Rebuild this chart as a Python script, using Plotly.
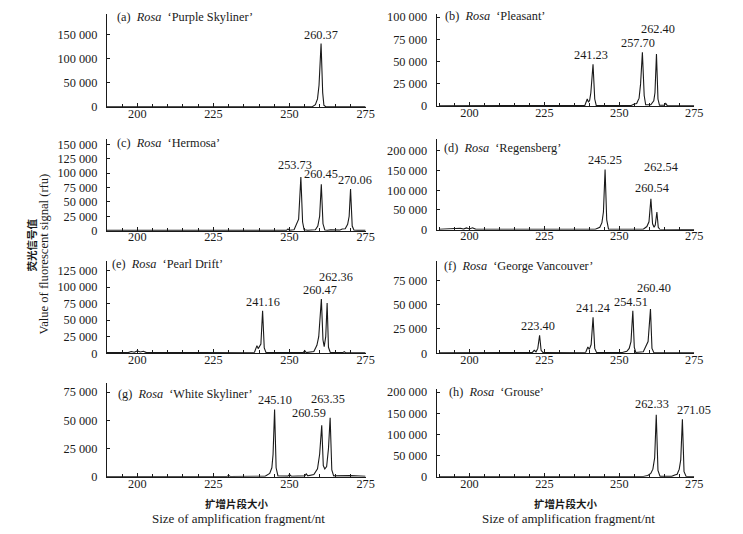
import plotly.graph_objects as go

# ---------------- data ----------------
cultivars = ["Purple Skyliner", "Pleasant", "Hermosa", "Regensberg",
             "Pearl Drift", "George Vancouver", "White Skyliner", "Grouse"]
panel_tags = ["(a)", "(b)", "(c)", "(d)", "(e)", "(f)", "(g)", "(h)"]

# electropherogram traces: fragment size (nt) / signal (rfu)
a_x = [190, 199, 200, 201, 202, 251.5, 252, 252.5, 257.5, 258.5, 259.2, 259.7, 260.37, 260.9, 261.3, 262, 268.5, 269.2, 270, 275]
a_y = [500, 500, 1200, 500, 500, 500, 2000, 500, 800, 5000, 17000, 45000, 131000, 30000, 4000, 500, 500, 1500, 500, 500]

b_x = [190, 238.5, 239.3, 239.7, 240.1, 240.5, 241.23, 241.8, 242.3, 254, 255, 255.8, 256.6, 257.1, 257.7, 258.3, 258.8,
       260.5, 261.5, 261.9, 262.4, 262.9, 263.4, 265, 265.5, 266, 275]
b_y = [500, 800, 8000, 4500, 6500, 15000, 47000, 8000, 800, 800, 2500, 3000, 9000, 25000, 60500, 12000, 1500,
       1500, 6000, 15000, 58500, 8000, 1200, 1000, 3000, 600, 500]

c_x = [190, 249, 249.5, 250, 251.5, 252.4, 253, 253.73, 254.3, 254.8, 256, 258.5, 259.3, 259.9, 260.45, 261, 261.6,
       262.5, 263.5, 266.5, 267.3, 268.3, 269.1, 269.6, 270.06, 270.6, 271.2, 272.5, 275]
c_y = [500, 500, 3000, 500, 1500, 13000, 20000, 93000, 15000, 1500, 600, 1500, 8000, 25000, 80500, 12000, 1200,
       600, 1500, 1000, 3000, 3500, 11000, 25000, 72400, 8000, 800, 500, 500]

d_x = [190, 196, 197, 198, 199, 200, 201, 202, 203, 242, 243.5, 244.2, 244.7, 245.25, 245.8, 246.4, 258, 259.2,
       259.9, 260.54, 261.1, 261.6, 262.0, 262.54, 263.0, 263.5, 265, 275]
d_y = [1000, 2000, 3500, 1500, 4500, 2000, 5000, 1500, 1000, 1000, 6000, 18000, 45000, 152700, 25000, 1500, 1000, 8000,
       20000, 78500, 15000, 6000, 12000, 44800, 6000, 1000, 1000, 500]

e_x = [190, 197, 198, 199, 200, 201, 202, 203, 238.5, 239.3, 239.7, 240.1, 240.6, 241.16, 241.7, 242.3, 254.5, 255,
       255.5, 258, 259, 259.6, 260.1, 260.47, 261, 261.4, 261.9, 262.36, 262.8, 263.4, 267.5, 268, 268.5, 275]
e_y = [1000, 1000, 2500, 1500, 3500, 2000, 3000, 1000, 1500, 11500, 7000, 9500, 14000, 64300, 8000, 1000, 1000, 4000,
       1000, 2500, 12000, 25000, 65000, 81800, 20000, 10000, 25000, 75800, 9000, 1200, 1000, 2500, 600, 500]

f_x = [190, 221, 221.6, 222.2, 222.8, 223.4, 223.9, 224.5, 238.8, 239.5, 240, 240.6, 241.24, 241.8, 242.4, 251, 252.5,
       253.3, 253.9, 254.51, 255, 255.5, 258, 258.9, 259.6, 260.4, 260.9, 261.5, 275]
f_y = [500, 800, 3000, 1500, 5000, 18500, 3000, 800, 1000, 6500, 4000, 9000, 37000, 5000, 800, 800, 2000,
       5000, 12000, 43800, 6000, 800, 1500, 7000, 12000, 45500, 5000, 800, 500]

g_x = [190, 229.5, 230, 230.5, 242, 243.5, 244.2, 244.6, 245.1, 245.6, 246.2, 249.5, 250, 250.6, 255, 255.5, 256, 258,
       259.2, 259.9, 260.59, 261.1, 261.6, 262.2, 262.8, 263.35, 263.9, 264.5, 270, 275]
g_y = [300, 300, 1200, 300, 500, 3000, 8000, 20000, 59700, 8000, 800, 600, 2000, 500, 800, 2500, 800, 2000,
       7000, 20000, 45600, 10000, 7000, 9000, 25000, 52300, 6000, 800, 1000, 500]

h_x = [190, 244.5, 245, 245.5, 258, 259.5, 260.5, 261.2, 261.8, 262.33, 262.9, 263.6, 267.5, 268.5, 269.3, 270, 270.5,
       271.05, 271.6, 272.3, 275]
h_y = [500, 500, 1500, 500, 800, 3000, 8000, 18000, 45000, 146600, 15000, 1000, 1000, 4000, 6000, 18000, 40000,
       135700, 12000, 1000, 500]

# labelled peaks (size, height)
a_peaks = [260.37];                         a_heights = [131000]
b_peaks = [241.23, 257.70, 262.40];         b_heights = [47000, 60500, 58500]
c_peaks = [253.73, 260.45, 270.06];         c_heights = [93000, 80500, 72400]
d_peaks = [245.25, 260.54, 262.54];         d_heights = [152700, 78500, 44800]
e_peaks = [241.16, 260.47, 262.36];         e_heights = [64300, 81800, 75800]
f_peaks = [223.40, 241.24, 254.51, 260.40]; f_heights = [18500, 37000, 43800, 45500]
g_peaks = [245.10, 260.59, 263.35];         g_heights = [59700, 45600, 52300]
h_peaks = [262.33, 271.05];                 h_heights = [146600, 135700]

# y-axis ticks per panel
a_ticks = [0, 50000, 100000, 150000]
b_ticks = [0, 25000, 50000, 75000, 100000]
c_ticks = [0, 25000, 50000, 75000, 100000, 125000, 150000]
d_ticks = [0, 50000, 100000, 150000, 200000]
e_ticks = [0, 25000, 50000, 75000, 100000, 125000]
f_ticks = [0, 25000, 50000, 75000]
g_ticks = [0, 25000, 50000, 75000]
h_ticks = [0, 50000, 100000, 150000, 200000]
y_max = [191000, 103000, 159000, 230000, 140000, 95500, 83000, 207000]
x_ticks = [200, 225, 250, 275]

# ---------------- layout / style ----------------
W, H = 743, 534
FONT = "Liberation Serif, Times New Roman, Noto Sans CJK SC, serif"
CJK = "Noto Sans CJK SC"
INK = "#1a1a1a"

# the page is photographed with a small offset/scale; map target pixels to figure pixels
def fx(px):
    return (px - 8.0) / 0.989

def fy(py):
    return (py - 9.5) / 0.983

traces = [(a_x, a_y), (b_x, b_y), (c_x, c_y), (d_x, d_y), (e_x, e_y), (f_x, f_y), (g_x, g_y), (h_x, h_y)]
peaks = [(a_peaks, a_heights), (b_peaks, b_heights), (c_peaks, c_heights), (d_peaks, d_heights),
         (e_peaks, e_heights), (f_peaks, f_heights), (g_peaks, g_heights), (h_peaks, h_heights)]
yticks = [a_ticks, b_ticks, c_ticks, d_ticks, e_ticks, f_ticks, g_ticks, h_ticks]

col_px = [(107, 366), (437, 695)]
row_px = [[(12, 105), (12, 104)], [(137, 229), (137, 228)], [(259, 352), (259, 352)], [(382, 476), (388, 476)]]
x_ranges = [[190, 275], [189, 275]]

label_shift = [
    [(0, 0)],
    [(-2, 0), (-4, 0), (2, 16)],
    [(-6, 3), (0, 1), (4, 0)],
    [(0, 1), (1, 2), (4, 36)],
    [(0, 0), (-1, 0), (9, 17)],
    [(-2, 0), (0, 0), (-2, 0), (4, 12)],
    [(0, 0), (-13, 3), (-2, 10)],
    [(-4, 2), (12, 0)],
]
title_shift = [(8, -3), (6, -2), (8, -4), (5, -9), (3, -3), (5, -5), (9, -11), (10, -3)]

fig = go.Figure()
annotations = []
layout_axes = {}
FS = 12.3

def fmt(v):
    return f"{v:,}".replace(",", " ")

for i in range(8):
    r, c = divmod(i, 2)
    n = i + 1
    xa = "x" if n == 1 else f"x{n}"
    ya = "y" if n == 1 else f"y{n}"
    xkey = "xaxis" if n == 1 else f"xaxis{n}"
    ykey = "yaxis" if n == 1 else f"yaxis{n}"
    xs, ys = traces[i]
    fig.add_trace(go.Scatter(x=xs, y=ys, mode="lines", xaxis=xa, yaxis=ya,
                             line=dict(color=INK, width=1.1), showlegend=False, hoverinfo="skip"))
    l, rr = col_px[c]
    t, b = row_px[r][c]
    layout_axes[xkey] = dict(
        domain=[fx(l) / W, fx(rr) / W], anchor=ya, range=x_ranges[c],
        tickvals=x_ticks, ticks="inside", ticklen=4, tickwidth=1, tickcolor=INK,
        minor=dict(dtick=5, tick0=190, ticks="inside", ticklen=3, tickcolor=INK),
        showline=True, linecolor=INK, linewidth=1, showgrid=False, zeroline=False,
        ticklabelstandoff=-5,
        tickfont=dict(family=FONT, size=FS, color=INK),
    )
    yt = yticks[i] + [y_max[i]]
    ylab = [fmt(v) for v in yticks[i]] + [""]
    layout_axes[ykey] = dict(
        domain=[1 - fy(b) / H, 1 - fy(t) / H], anchor=xa, range=[0, y_max[i]],
        tickvals=yt, ticktext=ylab, ticks="inside", ticklen=3, tickwidth=1, tickcolor=INK,
        showline=True, linecolor=INK, linewidth=1, showgrid=False, zeroline=False,
        ticklabelstandoff=6,
        tickfont=dict(family=FONT, size=FS, color=INK),
    )
    tx, ty = title_shift[i]
    annotations.append(dict(
        xref=f"{xa} domain", yref=f"{ya} domain", x=0, y=1, xanchor="left", yanchor="middle",
        xshift=tx, yshift=ty, showarrow=False,
        text=f"{panel_tags[i]}\u00a0\u00a0<i>Rosa</i>\u00a0\u00a0\u2018{cultivars[i]}\u2019",
        font=dict(family=FONT, size=FS, color=INK)))
    pk, ht = peaks[i]
    for j, (px, py) in enumerate(zip(pk, ht)):
        sx, sy = label_shift[i][j]
        annotations.append(dict(
            xref=xa, yref=ya, x=px, y=py, xanchor="center", yanchor="bottom",
            xshift=sx, yshift=sy, showarrow=False, text=f"{px:.2f}",
            font=dict(family=FONT, size=FS, color=INK)))

annotations += [
    dict(xref="paper", yref="paper", x=fx(32) / W, y=1 - fy(243) / H, text="荧光信号值", textangle=-90,
         showarrow=False, xanchor="center", yanchor="middle",
         font=dict(family=CJK, size=10.5, color=INK, weight="bold")),
    dict(xref="paper", yref="paper", x=fx(44) / W, y=1 - fy(252) / H, text="Value of fluorescent signal (rfu)",
         textangle=-90, showarrow=False, xanchor="center", yanchor="middle",
         font=dict(family=FONT, size=12.6, color=INK)),
]
for cx in (237, 567):
    annotations += [
        dict(xref="paper", yref="paper", x=fx(cx) / W, y=1 - fy(503) / H, text="扩增片段大小", showarrow=False,
             xanchor="center", yanchor="middle", font=dict(family=CJK, size=10.5, color=INK, weight="bold")),
        dict(xref="paper", yref="paper", x=fx(cx + 2) / W, y=1 - fy(518) / H,
             text="Size of amplification fragment/nt",
             showarrow=False, xanchor="center", yanchor="middle", font=dict(family=FONT, size=13, color=INK)),
    ]

fig.update_layout(
    width=W, height=H, margin=dict(l=0, r=0, t=0, b=0),
    paper_bgcolor="white", plot_bgcolor="white",
    annotations=annotations,
    font=dict(family=FONT, size=FS, color=INK),
    **layout_axes,
)

fig.write_html("out.html")
